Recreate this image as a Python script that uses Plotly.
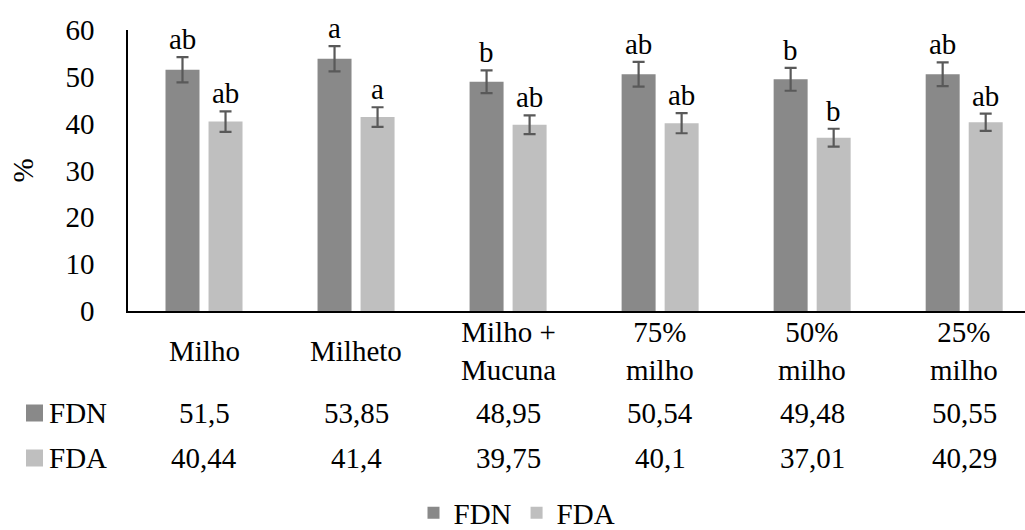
import plotly.graph_objects as go

# ---------------- data ----------------
categories = ["Milho", "Milheto", "Milho +<br>Mucuna", "75%<br>milho", "50%<br>milho", "25%<br>milho"]
fdn = [51.5, 53.85, 48.95, 50.54, 49.48, 50.55]
fda = [40.44, 41.4, 39.75, 40.1, 37.01, 40.29]
fdn_err = [2.7, 2.7, 2.45, 2.65, 2.45, 2.55]
fda_err = [2.2, 2.1, 2.0, 2.15, 1.9, 1.85]
fdn_letters = ["ab", "a", "b", "ab", "b", "ab"]
fda_letters = ["ab", "a", "ab", "ab", "b", "ab"]
y_ticks = [0, 10, 20, 30, 40, 50, 60]

# ---------------- style ----------------
FONT = "Liberation Serif"
FS = 29
C_FDN = "#898989"
C_FDA = "#bfbfbf"
C_ERR = "#595959"

W, H = 1025, 530
ML, MR, MT, MB = 128, 0, 30, 219
PW = W - ML - MR
PH = H - MT - MB


def px_x(p):
    return (p - ML) / PW


def px_y(p):
    return (H - MB - p) / PH


def fmt(v):
    return ("%g" % v).replace(".", ",")


x_idx = list(range(len(categories)))

fig = go.Figure()
fig.add_trace(go.Bar(
    name="FDN", x=x_idx, y=fdn, marker=dict(color=C_FDN, line=dict(width=0)),
    error_y=dict(type="data", array=fdn_err, visible=True, color=C_ERR, thickness=2.2, width=6),
))
fig.add_trace(go.Bar(
    name="FDA", x=x_idx, y=fda, marker=dict(color=C_FDA, line=dict(width=0)),
    error_y=dict(type="data", array=fda_err, visible=True, color=C_ERR, thickness=2.2, width=6),
))

BARGAP = 0.434
GROUPGAP = 0.21
offset = (1 - BARGAP) / 4  # centre of each bar relative to category centre

txtfont = dict(family=FONT, size=FS, color="black")
annotations = []
# significance letters
for i in x_idx:
    annotations.append(dict(x=i - offset, y=fdn[i] + fdn_err[i], xref="x", yref="y", text=fdn_letters[i],
                            showarrow=False, yanchor="bottom", font=txtfont))
    annotations.append(dict(x=i + offset, y=fda[i] + fda_err[i], xref="x", yref="y", text=fda_letters[i],
                            showarrow=False, yanchor="bottom", font=txtfont))

# category labels and data table
for i, c in enumerate(categories):
    annotations.append(dict(x=i, y=px_y(351), xref="x", yref="paper", text=c, showarrow=False,
                            yanchor="middle", font=txtfont))
    annotations.append(dict(x=i, y=px_y(413), xref="x", yref="paper", text=fmt(fdn[i]), showarrow=False,
                            yanchor="middle", font=txtfont))
    annotations.append(dict(x=i, y=px_y(458), xref="x", yref="paper", text=fmt(fda[i]), showarrow=False,
                            yanchor="middle", font=txtfont))

# row labels
for name, ypix in (("FDN", 413), ("FDA", 458)):
    annotations.append(dict(x=px_x(47), y=px_y(ypix), xref="paper", yref="paper", text=name, showarrow=False,
                            xanchor="left", yanchor="middle", font=txtfont))

# y-axis title
annotations.append(dict(x=px_x(22), y=0.5, xref="paper", yref="paper", text="%", textangle=-90, showarrow=False,
                        xanchor="center", yanchor="middle", font=txtfont))

shapes = []
for col, ypix in ((C_FDN, 413), (C_FDA, 458)):
    shapes.append(dict(type="rect", xref="paper", yref="paper",
                       x0=px_x(26), x1=px_x(43), y0=px_y(ypix - 8.5), y1=px_y(ypix + 8.5),
                       fillcolor=col, line=dict(width=0)))

fig.update_layout(
    width=W, height=H,
    margin=dict(l=ML, r=MR, t=MT, b=MB, pad=0, autoexpand=False),
    paper_bgcolor="white", plot_bgcolor="white",
    barmode="group", bargap=BARGAP, bargroupgap=GROUPGAP,
    font=txtfont,
    showlegend=True,
    legend=dict(orientation="h", x=px_x(517), y=px_y(513), xanchor="center", yanchor="middle",
                font=txtfont, itemwidth=30, tracegroupgap=0, bgcolor="rgba(0,0,0,0)"),
    annotations=annotations,
    shapes=shapes,
)
fig.update_xaxes(range=[-0.5, 5.4], showticklabels=False, showline=True, linecolor="black", linewidth=2,
                 showgrid=False, zeroline=False, ticks="", fixedrange=True)
fig.update_yaxes(range=[0, 60], tickvals=y_ticks, showline=True, linecolor="black", linewidth=1.5,
                 showgrid=False, zeroline=False, ticks="", ticklabelstandoff=26,
                 tickfont=txtfont, fixedrange=True)

fig.write_html("out.html", config={"displayModeBar": False})
